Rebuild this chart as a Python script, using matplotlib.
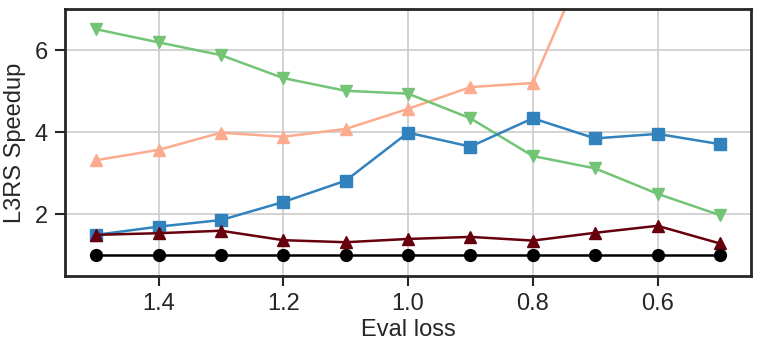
import matplotlib.pyplot as plt
import seaborn as sns

# Eval loss checkpoints (x axis is inverted)
eval_loss = [1.5, 1.4, 1.3, 1.2, 1.1, 1.0, 0.9, 0.8, 0.7, 0.6, 0.5]

baseline = [1.0] * 11
dark_red = [1.50, 1.54, 1.60, 1.37, 1.32, 1.40, 1.45, 1.36, 1.55, 1.72, 1.29]
blue = [1.50, 1.70, 1.86, 2.30, 2.82, 3.99, 3.65, 4.34, 3.85, 3.96, 3.71]
salmon = [3.32, 3.57, 3.99, 3.89, 4.08, 4.57, 5.10, 5.20, 8.70]
green = [6.51, 6.19, 5.88, 5.32, 5.01, 4.94, 4.34, 3.42, 3.12, 2.50, 1.98]

sns.set_style("ticks")
plt.rcParams['font.family'] = ['Liberation Sans', 'DejaVu Sans']

fig, ax = plt.subplots(figsize=(7.61, 3.51), dpi=100)

kw = dict(lw=1.8, ms=8.5, clip_on=True)
ax.plot(eval_loss[:len(salmon)], salmon, marker='^', color='#fcab8f', **kw)
ax.plot(eval_loss, green, marker='v', color='#74c476', **kw)
ax.plot(eval_loss, blue, marker='s', color='#3182bd', **kw)
ax.plot(eval_loss, dark_red, marker='^', color='#67000d', **kw)
ax.plot(eval_loss, baseline, marker='o', color='black', **kw)

ax.set_xlim(1.55, 0.45)
ax.set_ylim(0.5, 7.0)
ax.set_xticks([1.4, 1.2, 1.0, 0.8, 0.6])
ax.set_yticks([2, 4, 6])
ax.grid(True, color='#cccccc', lw=1.2)
ax.set_axisbelow(True)

ax.set_xlabel('Eval loss', fontsize=17, color='#262626', labelpad=3)
ax.set_ylabel('L3RS Speedup', fontsize=17, color='#262626', labelpad=6)
ax.tick_params(labelsize=17, colors='#262626', width=1.5, length=7.5, pad=5)
for s in ax.spines.values():
    s.set_linewidth(2)
    s.set_color('#262626')

fig.subplots_adjust(left=0.0854, right=0.987, top=0.974, bottom=0.214)
fig.savefig('out.png', dpi=100)
